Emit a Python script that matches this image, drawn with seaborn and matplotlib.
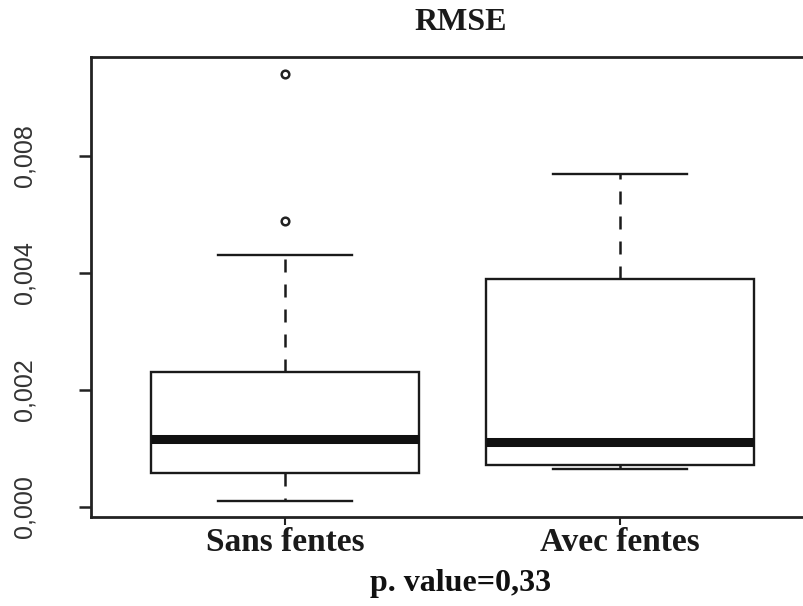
import matplotlib
matplotlib.use("Agg")
import matplotlib.pyplot as plt
import pandas as pd
import seaborn as sns

# valeurs (RMSE par groupe)
groupes = ["Sans fentes", "Avec fentes"]
sans_fentes = [0.0001, 0.00022, 0.00045, 0.00057, 0.0007, 0.0009, 0.00115,
               0.0014, 0.0019, 0.0023, 0.0043, 0.00488, 0.0074]
avec_fentes = [0.00064, 0.00068, 0.00071, 0.0009, 0.0011, 0.0025, 0.0039,
               0.0048, 0.00569]
y_ticks = [0.0, 0.002, 0.004, 0.006]
y_labels = ["0,000", "0,002", "0,004", "0,008"]

df = pd.DataFrame({
    "groupe": [groupes[0]] * len(sans_fentes) + [groupes[1]] * len(avec_fentes),
    "rmse": sans_fentes + avec_fentes,
})

fig = plt.figure(figsize=(8.04, 6.06), dpi=100)
ax = fig.add_axes([91 / 804, 1 - 517 / 606, 719 / 804, 460 / 606])

sns.boxplot(data=df, x="groupe", y="rmse", order=groupes, ax=ax,
            color="white", linecolor="#1a1a1a", linewidth=1.7, width=0.8,
            whis=1.4, capwidths=0.4,
            medianprops=dict(linewidth=6.5, color="#111111"),
            whiskerprops=dict(linestyle=(0, (5.2, 4.8)), linewidth=1.8),
            flierprops=dict(marker="o", markersize=5.5, markerfacecolor="none",
                            markeredgecolor="#222222", markeredgewidth=1.8))

ax.set_xlim(-0.579, 1.567)
ax.set_ylim(-0.000176, 0.007688)
ax.set_xlabel("")
ax.set_ylabel("")
for s in ax.spines.values():
    s.set_linewidth(2.0)
    s.set_color("#222222")

ax.set_yticks(y_ticks, labels=y_labels)
ax.tick_params(axis="y", length=9, width=1.8, pad=30, color="#222222",
               labelsize=18, labelcolor="#333333")
for t in ax.get_yticklabels():
    t.set_rotation(90)
    t.set_va("center")
    t.set_family("Liberation Sans")

ax.tick_params(axis="x", length=6, width=1.5, pad=1, color="#222222")
for t in ax.get_xticklabels():
    t.set_family("Liberation Serif")
    t.set_fontweight("bold")
    t.set_fontsize(24)
    t.set_color("#1a1a1a")

fig.text(0.573, 1 - 23 / 606, "RMSE", ha="center", va="center",
         family="Liberation Serif", fontweight="bold", fontsize=23,
         color="#1a1a1a")
fig.text(0.573, 1 - 583 / 606, "p. value=0,33", ha="center", va="center",
         family="Liberation Serif", fontweight="bold", fontsize=23,
         color="#111111")

fig.savefig("out.png", dpi=100)
